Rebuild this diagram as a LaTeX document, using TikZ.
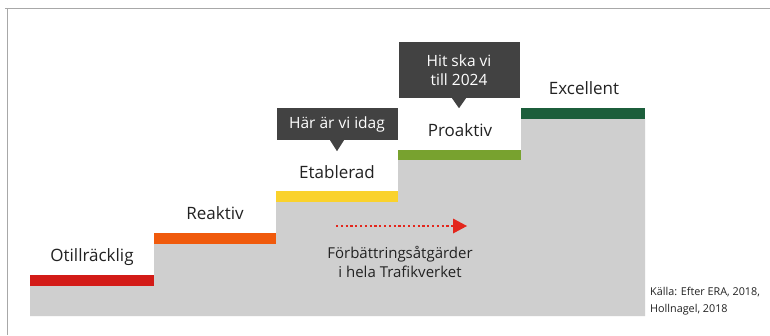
\documentclass[tikz,border=0pt]{standalone}
\usepackage{fontspec}
\setmainfont{Open Sans}
\usetikzlibrary{arrows.meta}

\definecolor{stepgray}{HTML}{CFCFCF}
\definecolor{lvlred}{HTML}{D31B17}
\definecolor{lvlorange}{HTML}{F05A0C}
\definecolor{lvlyellow}{HTML}{FAD22C}
\definecolor{lvlgreen}{HTML}{78A22F}
\definecolor{lvldark}{HTML}{1C5E3B}
\definecolor{tagfill}{HTML}{424242}
\definecolor{ink}{HTML}{222222}
\definecolor{framegray}{HTML}{A8A8A8}
\definecolor{arrowred}{HTML}{E3261C}

\tikzset{
  level/.style={font=\fontsize{17}{18}\selectfont, text=ink, inner sep=0pt, anchor=base},
  tag/.style={fill=tagfill, text=white, font=\fontsize{15.5}{19.5}\selectfont,
              align=center, inner sep=0pt},
  bar/.style={fill=#1, draw=none},
  note/.style={font=\fontsize{15}{19}\selectfont, text=ink, align=center, inner sep=0pt},
  source/.style={font=\fontsize{10.8}{17}\selectfont, text=ink, align=left, inner sep=0pt, anchor=north west}
}

\begin{document}
\begin{tikzpicture}[x=1pt,y=-1pt]
\useasboundingbox (0,0) rectangle (770,335);
\fill[white] (0,0) rectangle (770,335);

% frame lines, top and left
\draw[framegray, line width=1.4pt] (5,8.3) -- (770,8.3);
\draw[framegray, line width=1.4pt] (7.5,8.3) -- (7.5,335);

% grey staircase
\fill[stepgray] (30,316) -- (30,286) -- (154,286) -- (154,244) -- (276,244) -- (276,202)
  -- (398,202) -- (398,160) -- (521,160) -- (521,119) -- (645,119) -- (645,316) -- cycle;

% coloured tread of each level
\fill[bar=lvlred]    (30,275)  rectangle (154,286);
\fill[bar=lvlorange] (154,233) rectangle (276,244);
\fill[bar=lvlyellow] (276,191) rectangle (398,202);
\fill[bar=lvlgreen]  (398,150) rectangle (521,160);
\fill[bar=lvldark]   (521,108) rectangle (645,119);

% level names
\node[level] (l1) at (92,261)  {Otillräcklig};
\node[level] (l2) at (215,219) {Reaktiv};
\node[level] (l3) at (337,178) {Etablerad};
\node[level] (l4) at (460,136) {Proaktiv};
\node[level] (l5) at (584,94)  {Excellent};

% speech tags
\node[tag, minimum width=121pt, minimum height=32pt] (now) at (337,124) {Här är vi idag};
\fill[tagfill] ([xshift=-7pt]now.south) -- ([xshift=7pt]now.south) -- ([yshift=-11pt]now.south) -- cycle;

\node[tag, minimum width=121pt, minimum height=56pt] (goal) at (459,70) {Hit ska vi\\till 2024};
\fill[tagfill] ([xshift=-7pt]goal.south) -- ([xshift=7pt]goal.south) -- ([yshift=-10pt]goal.south) -- cycle;

% improvement arrow
\coordinate (a0) at (336,226);
\coordinate (a1) at (453,226);
\coordinate (a2) at (467,226);
\draw[arrowred, line width=2.6pt, dash pattern=on 2.2pt off 2.6pt] (a0) -- (a1);
\fill[arrowred] (a1) ++(0,-7.5) -- (a2) -- ++(-14,7.5) -- cycle;

\node[note] (imp) at (400,262) {Förbättringsåtgärder\\i hela Trafikverket};

% source
\node[source] (src) at (650,287) {Källa: Efter ERA, 2018,\\Hollnagel, 2018};
\end{tikzpicture}
\end{document}
